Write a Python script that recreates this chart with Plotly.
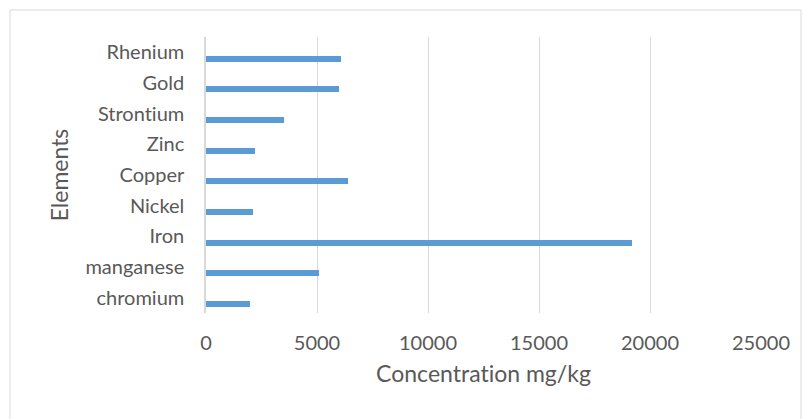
import plotly.graph_objects as go

elements = ["chromium", "manganese", "Iron", "Nickel", "Copper", "Zinc", "Strontium", "Gold", "Rhenium"]
concentration = [2000, 5100, 19200, 2100, 6400, 2200, 3500, 6000, 6100]
x_ticks = [0, 5000, 10000, 15000, 20000, 25000]

FONT = "Lato, 'Open Sans', sans-serif"
GRAY = "#595959"

fig = go.Figure(go.Bar(
    x=concentration, y=elements, orientation="h",
    marker=dict(color="#5b9bd5", line=dict(width=0)),
    width=0.19, offset=-0.3,
))

L, R, T, B = 206, 43, 37, 106
W, H = 804, 419
pw, ph = W - L - R, H - T - B

def px_x(p):
    return (p - L) / pw

def px_y(p):
    return (H - B - p) / ph

fig.update_layout(
    width=W, height=H,
    margin=dict(l=L, r=R, t=T, b=B),
    plot_bgcolor="white", paper_bgcolor="white",
    showlegend=False,
    font=dict(family=FONT, color=GRAY, size=20),
    xaxis=dict(
        range=[0, 25000], tickvals=x_ticks, ticktext=[str(v) for v in x_ticks],
        showgrid=True, gridcolor="#d9d9d9", gridwidth=1,
        zeroline=False, showline=False, ticks="",
        ticklabelstandoff=16,
        tickfont=dict(size=20, color=GRAY, family=FONT),
        title=dict(text="Concentration mg/kg", font=dict(size=23, color=GRAY, family=FONT), standoff=12),
    ),
    yaxis=dict(
        type="category", categoryorder="array", categoryarray=elements,
        range=[-0.5, len(elements) - 0.5],
        showgrid=False, zeroline=False,
        showline=True, linecolor="#d9d9d9", linewidth=1.5,
        ticks="", ticklabelstandoff=16,
        tickfont=dict(size=20, color=GRAY, family=FONT),
        title=dict(text="Elements", font=dict(size=23, color=GRAY, family=FONT), standoff=10),
    ),
    shapes=[dict(
        type="rect", xref="paper", yref="paper",
        x0=px_x(10), x1=px_x(801), y0=px_y(10), y1=px_y(430),
        line=dict(color="#d9d9d9", width=1), fillcolor="rgba(0,0,0,0)", layer="below",
    )],
    bargap=0,
)

post = (
    "document.body.style.margin='0';"
    "var s=document.createElement('style');"
    "s.textContent='svg text{font-variant-ligatures:none;font-feature-settings:\"liga\" 0;}';"
    "document.head.appendChild(s);"
)
fig.write_html("out.html", post_script=post, config={"displayModeBar": False})
